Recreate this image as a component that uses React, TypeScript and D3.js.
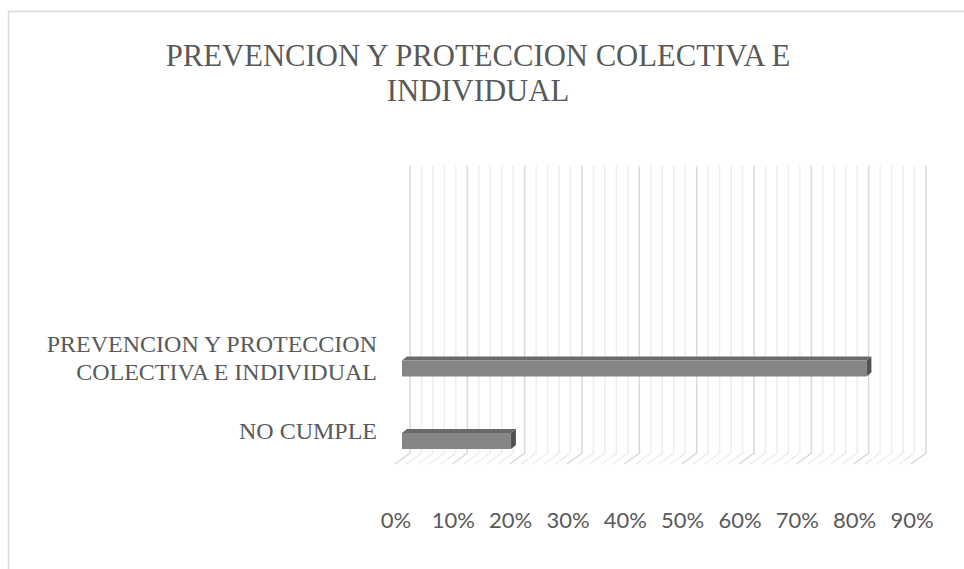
import { useEffect, useRef } from "react";
import * as d3 from "d3";

const title = "PREVENCION Y PROTECCION COLECTIVA E INDIVIDUAL";
const categories = ["NO CUMPLE", "PREVENCION Y PROTECCION COLECTIVA E INDIVIDUAL"];
const values = [0.19, 0.81];
const slotCount = 4;
const ticks = [0, 0.1, 0.2, 0.3, 0.4, 0.5, 0.6, 0.7, 0.8, 0.9];
const minorTicks = d3.range(0, 46).map((i) => i / 50);

const W = 964;
const H = 569;

function wrap(sel: d3.Selection<SVGTextElement, unknown, null, undefined>, text: string, maxW: number) {
  const words = text.split(" ");
  const lines: string[] = [];
  let cur = "";
  const probe = sel.append("tspan");
  for (const w of words) {
    const t = cur ? cur + " " + w : w;
    probe.text(t);
    if ((probe.node() as SVGTSpanElement).getComputedTextLength() > maxW && cur) {
      lines.push(cur);
      cur = w;
    } else cur = t;
  }
  lines.push(cur);
  probe.remove();
  return lines;
}

const App = () => {
  const ref = useRef<SVGSVGElement | null>(null);

  useEffect(() => {
    if (!ref.current) return;
    const svg = d3.select(ref.current);
    svg.selectAll("*").remove();

    const grey = "#595959";
    const top = 166;
    const backBottom = 453;
    const depthX = -15;
    const depthY = 11;

    const xBack = d3.scaleLinear().domain([0, 0.9]).range([410, 926]);
    const xBar = d3.scaleLinear().domain([0, 0.9]).range([402, 918]);
    const y = d3.scalePoint<number>().domain(d3.range(slotCount)).range([441, 441 - 72.5 * (slotCount - 1)]);

    // chart border
    svg.append("rect").attr("x", 8.5).attr("y", 11.5).attr("width", W).attr("height", H)
      .attr("fill", "#fff").attr("stroke", "#d9d9d9").attr("stroke-width", 1.5);

    // title
    const tt = svg.append("text").attr("text-anchor", "middle")
      .attr("font-family", "'Liberation Serif', 'Times New Roman', serif")
      .attr("font-size", 30.7).attr("fill", grey);
    const tLines = wrap(tt, title, 660);
    tLines.forEach((l, i) => tt.append("tspan").attr("x", 478).attr("y", 66 + i * 35).text(l));

    // back wall and floor gridlines
    const isMajor = (v: number) => Math.abs(v * 10 - Math.round(v * 10)) < 1e-6;
    const g = svg.append("g");
    minorTicks.forEach((v) => {
      const major = isMajor(v);
      const x = xBack(v);
      g.append("path")
        .attr("d", `M${x},${top}L${x},${backBottom}L${x + depthX},${backBottom + depthY}`)
        .attr("fill", "none")
        .attr("stroke", major ? "#d9d9d9" : "#ededed")
        .attr("stroke-width", 1.5);
    });

    // bars (3D)
    const barH = 16;
    const dx = 5;
    const dy = -4;
    values.forEach((v, i) => {
      const cy = y(i) as number;
      const x0 = xBar(0);
      const x1 = xBar(v);
      const y0 = cy - barH / 2;
      const y1 = cy + barH / 2;
      svg.append("path")
        .attr("d", `M${x0},${y0}L${x0 + dx},${y0 + dy}L${x1 + dx},${y0 + dy}L${x1},${y0}Z`)
        .attr("fill", "#6a6a6a");
      svg.append("path")
        .attr("d", `M${x1},${y0}L${x1 + dx},${y0 + dy}L${x1 + dx},${y1 + dy}L${x1},${y1}Z`)
        .attr("fill", "#525252");
      svg.append("rect").attr("x", x0).attr("y", y0).attr("width", x1 - x0).attr("height", barH)
        .attr("fill", "#858585");
    });

    // category labels
    categories.forEach((c, i) => {
      const cy = (y(i) as number) - 10.5;
      const t = svg.append("text").attr("text-anchor", "end")
        .attr("font-family", "'Liberation Serif', 'Times New Roman', serif")
        .attr("font-size", 24).attr("fill", grey);
      const lines = wrap(t, c, 345);
      const lh = 28;
      lines.forEach((l, k) => {
        t.append("tspan").attr("x", 377)
          .attr("y", cy + (k - (lines.length - 1) / 2) * lh + 8)
          .text(l);
      });
    });

    // value axis labels
    svg.append("g").selectAll("text").data(ticks).join("text")
      .attr("x", (d) => xBack(d) + depthX + 1)
      .attr("y", 528)
      .attr("text-anchor", "middle")
      .attr("font-family", "Lato, 'Open Sans', sans-serif")
      .attr("font-size", 22)
      .attr("fill", grey)
      .text((d) => d3.format(".0%")(d));
  }, []);

  return (
    <svg ref={ref} width={W} height={H} style={{ position: "absolute", left: 0, top: 0 }} />
  );
};

export default App;
